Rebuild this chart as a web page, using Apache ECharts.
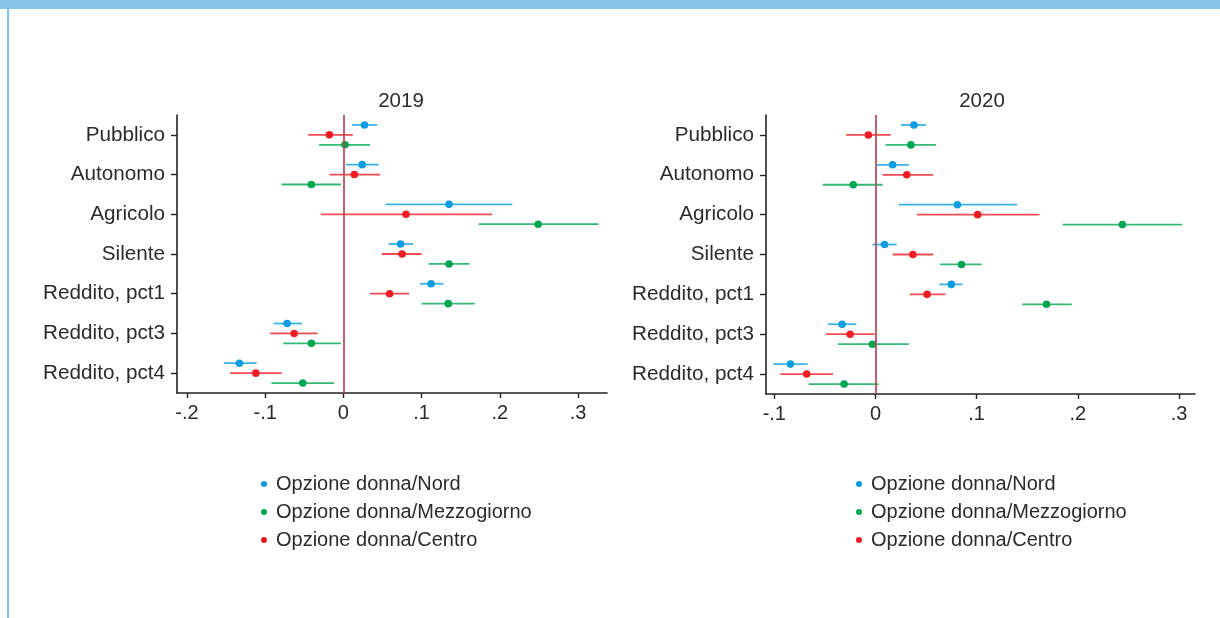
<!DOCTYPE html>
<html>
<head>
<meta charset="utf-8">
<script src="https://cdn.jsdelivr.net/npm/echarts@6/dist/echarts.min.js"></script>
<style>
html,body{margin:0;padding:0;background:#fff;}
#chart{width:1220px;height:618px;}
</style>
</head>
<body>
<div id="chart"></div>
<script>
const categories = ['Pubblico','Autonomo','Agricolo','Silente','Reddito, pct1','Reddito, pct3','Reddito, pct4'];
const seriesNames = ['Opzione donna/Nord','Opzione donna/Mezzogiorno','Opzione donna/Centro'];
const panelTitles = ['2019','2020'];
const ticks2019 = [-0.2,-0.1,0,0.1,0.2,0.3];
const ticks2020 = [-0.1,0,0.1,0.2,0.3];

// 2019
const nord2019_est = [0.027, 0.024, 0.135, 0.073, 0.112, -0.072, -0.133];
const nord2019_lo  = [0.011, 0.003, 0.054, 0.058, 0.098, -0.089, -0.153];
const nord2019_hi  = [0.043, 0.045, 0.216, 0.089, 0.128, -0.053, -0.111];
const mezz2019_est = [0.002, -0.041, 0.249, 0.135, 0.134, -0.041, -0.052];
const mezz2019_lo  = [-0.031, -0.079, 0.173, 0.109, 0.100, -0.077, -0.092];
const mezz2019_hi  = [0.034, -0.003, 0.326, 0.161, 0.168, -0.003, -0.012];
const centro2019_est = [-0.018, 0.014, 0.080, 0.075, 0.059, -0.063, -0.112];
const centro2019_lo  = [-0.045, -0.018, -0.029, 0.049, 0.034, -0.094, -0.145];
const centro2019_hi  = [0.012, 0.047, 0.190, 0.100, 0.084, -0.033, -0.079];

// 2020
const nord2020_est = [0.038, 0.017, 0.081, 0.009, 0.075, -0.033, -0.084];
const nord2020_lo  = [0.025, 0.001, 0.023, -0.003, 0.063, -0.047, -0.101];
const nord2020_hi  = [0.050, 0.033, 0.140, 0.021, 0.086, -0.019, -0.067];
const mezz2020_est = [0.035, -0.022, 0.244, 0.085, 0.169, -0.003, -0.031];
const mezz2020_lo  = [0.010, -0.052, 0.185, 0.064, 0.145, -0.037, -0.066];
const mezz2020_hi  = [0.060, 0.007, 0.303, 0.105, 0.194, 0.033, 0.003];
const centro2020_est = [-0.007, 0.031, 0.101, 0.037, 0.051, -0.025, -0.068];
const centro2020_lo  = [-0.029, 0.007, 0.041, 0.017, 0.034, -0.049, -0.094];
const centro2020_hi  = [0.015, 0.057, 0.162, 0.057, 0.069, -0.001, -0.042];

const colors = ['#0b9de0', '#00a651', '#ee1d25'];
const offsets = [-0.25, 0.25, 0];
const FONT = "'Liberation Sans', Arial, sans-serif";
const TXT = '#2b2b2b';

function tickFmt(v){
  const r = Math.round(v*10)/10;
  if (r === 0) return '0';
  return (r < 0 ? '-' : '') + Math.abs(r).toFixed(1).replace(/^0/, '');
}

function buildData(est, lo, hi){
  return est.map((e,i)=>[e, i, lo[i], hi[i]]);
}

function makeSeries(name, idx, panel, est, lo, hi){
  const off = offsets[idx];
  const col = colors[idx];
  return {
    type: 'custom',
    name: name,
    xAxisIndex: panel, yAxisIndex: panel,
    data: buildData(est, lo, hi),
    encode: {x: [0,2,3], y: 1},
    itemStyle: {color: col},
    clip: false,
    z: 3,
    renderItem: function(params, api){
      const band = api.size([0,1])[1];
      const dy = off*band;
      const p = api.coord([api.value(0), api.value(1)]);
      const a = api.coord([api.value(2), api.value(1)]);
      const b = api.coord([api.value(3), api.value(1)]);
      const y = p[1] + dy;
      return {
        type: 'group',
        children: [
          {type:'line', shape:{x1:a[0], y1:y, x2:b[0], y2:y}, style:{stroke: col, lineWidth: 1.8, opacity: 0.8}},
          {type:'circle', shape:{cx:p[0], cy:y, r:3.8}, style:{fill: col}}
        ]
      };
    }
  };
}

const series = [
  makeSeries(seriesNames[0], 0, 0, nord2019_est, nord2019_lo, nord2019_hi),
  makeSeries(seriesNames[1], 1, 0, mezz2019_est, mezz2019_lo, mezz2019_hi),
  makeSeries(seriesNames[2], 2, 0, centro2019_est, centro2019_lo, centro2019_hi),
  makeSeries(seriesNames[0], 0, 1, nord2020_est, nord2020_lo, nord2020_hi),
  makeSeries(seriesNames[1], 1, 1, mezz2020_est, mezz2020_lo, mezz2020_hi),
  makeSeries(seriesNames[2], 2, 1, centro2020_est, centro2020_lo, centro2020_hi)
];

[0,1].forEach(p=>{
  series.push({
    type: 'custom', xAxisIndex: p, yAxisIndex: p, data: [], silent: true,
    renderItem: function(){ return null; },
    markLine: {
      silent: true, symbol: ['none','none'], label: {show:false},
      lineStyle: {color:'#c0434d', width: 2, type:'solid', opacity: 0.85},
      data: [{xAxis: 0}]
    },
    z: 2
  });
});

function xAxis(gi, min, max, ticks){
  return {
    type: 'value', gridIndex: gi, min: min, max: max,
    splitLine: {show:false},
    axisLine: {show:true, onZero:false, lineStyle:{color:'#222', width:1.6}},
    axisTick: {show:true, customValues: ticks, length: 5, lineStyle:{color:'#222', width:1.4}},
    axisLabel: {customValues: ticks, formatter: tickFmt, color: TXT, fontSize: 20, fontFamily: FONT, margin: 10}
  };
}
function yAxis(gi){
  return {
    type: 'category', gridIndex: gi, data: categories, inverse: true,
    axisLine: {show:true, onZero:false, lineStyle:{color:'#222', width:1.6}},
    axisTick: {show:true, alignWithLabel:true, length:6, lineStyle:{color:'#222', width:1.4}},
    axisLabel: {color: TXT, fontSize: 20.7, fontFamily: FONT, margin: 12},
    splitLine: {show:false}
  };
}

function legend(left){
  return {
    orient: 'vertical', left: left, top: 469,
    data: seriesNames.map((n,i)=>({name:n, icon:'circle', itemStyle:{color: colors[i]}})),
    itemWidth: 6, itemHeight: 6, itemGap: 8,
    textStyle: {color: TXT, fontSize: 20, fontFamily: FONT, lineHeight: 20, padding:[0,0,0,4]},
    selectedMode: false
  };
}

const chart = echarts.init(document.getElementById('chart'), null, {renderer:'canvas'});
chart.setOption({
  animation: false,
  backgroundColor: '#fff',
  graphic: [
    {type:'rect', shape:{x:0, y:0, width:1220, height:9}, style:{fill:'#86c5e9'}, z: 10},
    {type:'rect', shape:{x:7, y:0, width:2.2, height:618}, style:{fill:'#86c5e9'}, z: 10},
    {type:'text', style:{x:401, y:101, text: panelTitles[0], textAlign:'center', textVerticalAlign:'middle', fontSize:20.5, fontFamily:FONT, fill:TXT}},
    {type:'text', style:{x:982, y:101, text: panelTitles[1], textAlign:'center', textVerticalAlign:'middle', fontSize:20.5, fontFamily:FONT, fill:TXT}}
  ],
  grid: [
    {left: 177, top: 115, width: 430, height: 278},
    {left: 766, top: 115, width: 429, height: 279}
  ],
  xAxis: [xAxis(0, -0.2128, 0.337, ticks2019), xAxis(1, -0.1082, 0.3158, ticks2020)],
  yAxis: [yAxis(0), yAxis(1)],
  legend: [legend(256), legend(851)],
  series: series
});
</script>
</body>
</html>
